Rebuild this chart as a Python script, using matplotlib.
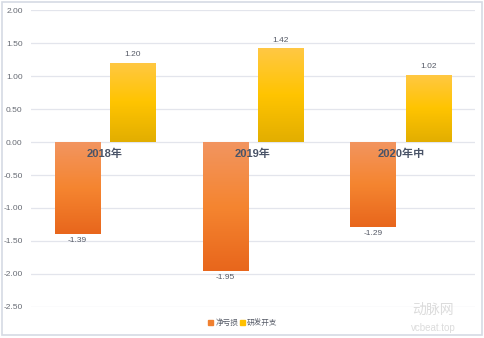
import matplotlib
matplotlib.use("Agg")
import matplotlib.pyplot as plt
import numpy as np
from matplotlib.colors import LinearSegmentedColormap
from matplotlib.patches import Rectangle

plt.rcParams['font.family'] = ['Liberation Sans', 'Noto Sans CJK SC']

categories = ["2018年", "2019年", "2020年中"]
net_loss = [-1.39, -1.95, -1.29]
rd_spend = [1.20, 1.42, 1.02]
series_names = ["净亏损", "研发开支"]
yticks = [2.0, 1.5, 1.0, 0.5, 0.0, -0.5, -1.0, -1.5, -2.0, -2.5]

fig = plt.figure(figsize=(4.84, 3.38), dpi=100)
ax = fig.add_axes([0.064, 0.092, 0.917, 0.878])

x = np.arange(len(categories))
w = 0.305
off = 0.188

orange_cmap = LinearSegmentedColormap.from_list("o", ["#F29560", "#F58530", "#E8661C"])
yellow_cmap = LinearSegmentedColormap.from_list("y", ["#FFC844", "#FFC400", "#E2AE00"])

bars_o = ax.bar(x - off, net_loss, w, color="none", edgecolor="none", zorder=2)
bars_y = ax.bar(x + off, rd_spend, w, color="none", edgecolor="none", zorder=2)

grad = np.linspace(0, 1, 256).reshape(-1, 1)
for bars, cmap in ((bars_o, orange_cmap), (bars_y, yellow_cmap)):
    for b in bars:
        x0, y0 = b.get_x(), b.get_y()
        bw, bh = b.get_width(), b.get_height()
        top, bot = max(y0, y0 + bh), min(y0, y0 + bh)
        im = ax.imshow(grad, cmap=cmap, aspect="auto", extent=(x0, x0 + bw, bot, top),
                       origin="upper", zorder=2)
        clip = Rectangle((x0, bot), bw, top - bot, transform=ax.transData)
        im.set_clip_path(clip)

for xi, v in zip(x - off, net_loss):
    ax.text(xi, v - 0.05, f"{v:.2f}", ha="center", va="top", fontsize=6, color="#555a66")
for xi, v in zip(x + off, rd_spend):
    ax.text(xi, v + 0.07, f"{v:.2f}", ha="center", va="bottom", fontsize=6, color="#555a66")

for xi, c in zip(x, categories):
    ax.text(xi, -0.1, c, ha="center", va="top", fontsize=8, fontweight="bold", color="#4a5468",
            zorder=3)

ax.set_xlim(-0.5, 2.5)
ax.set_ylim(-2.5, 2.0)
ax.set_yticks(yticks)
ax.set_yticklabels([f"{t:.2f}" for t in yticks], fontsize=6, color="#666a73")
ax.set_xticks([])
ax.tick_params(axis="y", length=0, pad=6)
ax.grid(axis="y", color="#e3e5ec", linewidth=0.9, zorder=0)
ax.set_axisbelow(True)
for s in ax.spines.values():
    s.set_visible(False)

# legend
handles = [Rectangle((0, 0), 1, 1, color="#F08030"), Rectangle((0, 0), 1, 1, color="#FFC000")]
fig.legend(handles, series_names, loc="center", bbox_to_anchor=(243 / 484, 1 - 323 / 338),
           ncol=2, frameon=False, fontsize=5.5, handlelength=0.6, handleheight=0.6,
           handletextpad=0.3, columnspacing=0.3, labelcolor="#555a66")

# outer frame
fig.add_artist(Rectangle((0.004, 0.01), 0.992, 0.985, transform=fig.transFigure, fill=False,
                         edgecolor="#d5dae4", linewidth=1.2))

# watermark
fig.text(0.895, 0.082, "动脉网", fontsize=10, color="#dcdcdc", ha="center", va="center")
fig.text(0.895, 0.03, "vcbeat.top", fontsize=7, color="#dcdcdc", ha="center", va="center")

fig.savefig("out.png", dpi=100)
